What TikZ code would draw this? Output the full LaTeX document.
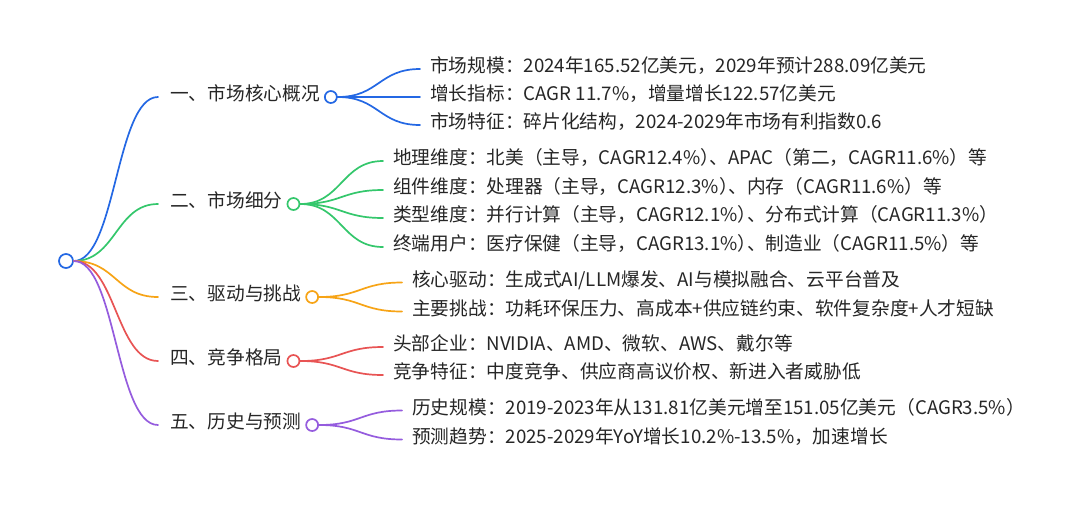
\documentclass[tikz,border=0pt]{standalone}
\usepackage{fontspec}
\setmainfont{Noto Sans CJK SC}
\usetikzlibrary{positioning, calc}
\definecolor{cblue}{RGB}{36,104,228}
\definecolor{cgreen}{RGB}{52,199,108}
\definecolor{corange}{RGB}{247,164,22}
\definecolor{cred}{RGB}{232,84,84}
\definecolor{cpurple}{RGB}{149,92,222}
\definecolor{ink}{RGB}{38,38,38}
\newcommand{\rpdun}{）\kern-.5em、}

\begin{document}
\begin{tikzpicture}[x=1pt, y=-1pt, font=\fontsize{18.7}{22}\selectfont,
  txt/.style={anchor=west, inner sep=0pt, text height=0.88em, text depth=0.12em, text=ink},
  dot/.style={circle, draw=#1, fill=white, line width=1.7pt, minimum size=12pt, inner sep=0pt},
  link/.style={draw=#1, line width=1.7pt, line cap=round,
    to path={let \p1=(\tikztostart), \p2=(\tikztotarget), \n1={(\x2-\x1)/2} in
      .. controls +(\n1,0) and +(-\n1,0) .. (\tikztotarget)}}]
\useasboundingbox[fill=white] (0,0) rectangle (1080,507);
% root
\node[dot=cblue, minimum size=14pt] (root) at (66,261) {};
% first level
\node[txt] (s1) at (170,97) {一、市场核心概况};
\node[txt] (s2) at (170,204) {二、市场细分};
\node[txt] (s3) at (170,297) {三、驱动与挑战};
\node[txt] (s4) at (170,361) {四、竞争格局};
\node[txt] (s5) at (170,425) {五、历史与预测};
\draw[link=cblue] (root.east) to ([xshift=-12pt]s1.west);
\draw[link=cgreen] (root.east) to ([xshift=-12pt]s2.west);
\draw[link=corange] (root.east) to ([xshift=-12pt]s3.west);
\draw[link=cred] (root.east) to ([xshift=-12pt]s4.west);
\draw[link=cpurple] (root.east) to ([xshift=-12pt]s5.west);
\node[dot=cblue, right=4pt of s1] (d1) {};
\node[dot=cgreen, right=4pt of s2] (d2) {};
\node[dot=corange, right=4pt of s3] (d3) {};
\node[dot=cred, right=4pt of s4] (d4) {};
\node[dot=cpurple, right=4pt of s5] (d5) {};
% second level
\node[txt] (a11) at (430,69) {市场规模：2024年165.52亿美元，2029年预计288.09亿美元};
\node[txt] (a12) at (430,97) {增长指标：CAGR 11.7\%，增量增长122.57亿美元};
\node[txt] (a13) at (430,125) {市场特征：碎片化结构，2024-2029年市场有利指数0.6};
\node[txt] (a21) at (393,161) {地理维度：北美（主导，CAGR12.4\%\rpdun APAC（第二，CAGR11.6\%）等};
\node[txt] (a22) at (393,190) {组件维度：处理器（主导，CAGR12.3\%\rpdun 内存（CAGR11.6\%）等};
\node[txt] (a23) at (393,218) {类型维度：并行计算（主导，CAGR12.1\%\rpdun 分布式计算（CAGR11.3\%）};
\node[txt] (a24) at (393,247) {终端用户：医疗保健（主导，CAGR13.1\%\rpdun 制造业（CAGR11.5\%）等};
\node[txt] (a31) at (412,282.5) {核心驱动：生成式AI/LLM爆发、AI与模拟融合、云平台普及};
\node[txt] (a32) at (412,311.5) {主要挑战：功耗环保压力、高成本+供应链约束、软件复杂度+人才短缺};
\node[txt] (a41) at (393,347) {头部企业：NVIDIA、AMD、微软、AWS、戴尔等};
\node[txt] (a42) at (393,375) {竞争特征：中度竞争、供应商高议价权、新进入者威胁低};
\node[txt] (a51) at (412,410.5) {历史规模：2019-2023年从131.81亿美元增至151.05亿美元（CAGR3.5\%）};
\node[txt] (a52) at (412,439.5) {预测趋势：2025-2029年YoY增长10.2\%-13.5\%，加速增长};
\draw[link=cblue] (d1.east) to ([xshift=-10pt]a11.west);
\draw[link=cblue] (d1.east) to ([xshift=-10pt]a12.west);
\draw[link=cblue] (d1.east) to ([xshift=-10pt]a13.west);
\draw[link=cgreen] (d2.east) to ([xshift=-10pt]a21.west);
\draw[link=cgreen] (d2.east) to ([xshift=-10pt]a22.west);
\draw[link=cgreen] (d2.east) to ([xshift=-10pt]a23.west);
\draw[link=cgreen] (d2.east) to ([xshift=-10pt]a24.west);
\draw[link=corange] (d3.east) to ([xshift=-10pt]a31.west);
\draw[link=corange] (d3.east) to ([xshift=-10pt]a32.west);
\draw[link=cred] (d4.east) to ([xshift=-10pt]a41.west);
\draw[link=cred] (d4.east) to ([xshift=-10pt]a42.west);
\draw[link=cpurple] (d5.east) to ([xshift=-10pt]a51.west);
\draw[link=cpurple] (d5.east) to ([xshift=-10pt]a52.west);
\end{tikzpicture}
\end{document}
